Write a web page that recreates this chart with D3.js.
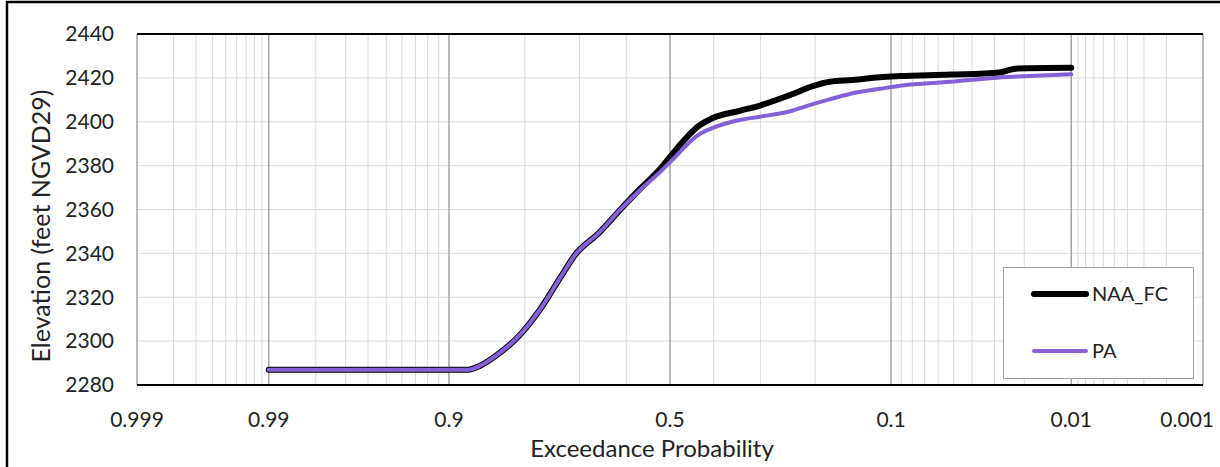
<!DOCTYPE html>
<meta charset="utf-8">
<style>
body { margin: 0; background: #fff; }
svg text { font-family: Lato, "Open Sans", sans-serif; fill: #222; }
.grid-minor line { stroke: #dcdcdc; stroke-width: 1px; }
.grid-major line { stroke: #a3a3a3; stroke-width: 1.5px; }
.grid-y line { stroke: #dcdcdc; stroke-width: 1px; }
</style>
<svg width="1220" height="467"></svg>
<script src="https://d3js.org/d3.v7.min.js"></script>
<script>
// exceedance probabilities shared by both series
var exceedance = [0.99, 0.95, 0.90, 0.879, 0.865, 0.842, 0.808, 0.775, 0.738, 0.709, 0.658, 0.614,
  0.569, 0.523, 0.50, 0.431, 0.402, 0.343, 0.301, 0.243, 0.204, 0.177, 0.145, 0.112, 0.091,
  0.052, 0.028, 0.022, 0.01];
var naaFC = [2287, 2287, 2287, 2287, 2288.7, 2293.7, 2302.8, 2314.2, 2328.8, 2339.3, 2349.7, 2359.8,
  2369.4, 2378.5, 2384, 2398.5, 2401.7, 2405, 2407.4, 2412.2, 2416.2, 2418.2, 2419, 2420.3, 2420.8,
  2421.5, 2422.5, 2424.3, 2424.6];
var pa = [2287, 2287, 2287, 2287, 2288.7, 2293.7, 2302.8, 2314.2, 2328.8, 2339.3, 2349.7, 2359.8,
  2368.9, 2377.1, 2381.5, 2394.5, 2397.2, 2400.8, 2402.3, 2404.8, 2408, 2410.2, 2413, 2415, 2416.4,
  2418.2, 2420.2, 2420.6, 2421.6];
var seriesNames = ["NAA_FC", "PA"];
var majorTicks = [0.999, 0.99, 0.9, 0.5, 0.1, 0.01, 0.001];
var minorTicks = [0.998, 0.997, 0.996, 0.995, 0.994, 0.993, 0.992, 0.991,
  0.98, 0.97, 0.96, 0.95, 0.94, 0.93, 0.92, 0.91, 0.8, 0.7, 0.6, 0.4, 0.3, 0.2,
  0.09, 0.08, 0.07, 0.06, 0.05, 0.04, 0.03, 0.02,
  0.009, 0.008, 0.007, 0.006, 0.005, 0.004, 0.003, 0.002];
var yTicks = [2280, 2300, 2320, 2340, 2360, 2380, 2400, 2420, 2440];

// inverse standard normal cdf (Acklam)
function probit(p) {
  var a = [-3.969683028665376e+01, 2.209460984245205e+02, -2.759285104469687e+02, 1.383577518672690e+02, -3.066479806614716e+01, 2.506628277459239e+00];
  var b = [-5.447609879822406e+01, 1.615858368580409e+02, -1.556989798598866e+02, 6.680131188771972e+01, -1.328068155288572e+01];
  var c = [-7.784894002430293e-03, -3.223964580411365e-01, -2.400758277161838e+00, -2.549732539343734e+00, 4.374664141464968e+00, 2.938163982698783e+00];
  var d = [7.784695709041462e-03, 3.224671290700398e-01, 2.445134137142996e+00, 3.754408661907416e+00];
  var q, r;
  if (p < 0.02425) {
    q = Math.sqrt(-2 * Math.log(p));
    return (((((c[0]*q+c[1])*q+c[2])*q+c[3])*q+c[4])*q+c[5]) / ((((d[0]*q+d[1])*q+d[2])*q+d[3])*q+1);
  } else if (p > 1 - 0.02425) {
    q = Math.sqrt(-2 * Math.log(1 - p));
    return -(((((c[0]*q+c[1])*q+c[2])*q+c[3])*q+c[4])*q+c[5]) / ((((d[0]*q+d[1])*q+d[2])*q+d[3])*q+1);
  }
  q = p - 0.5; r = q * q;
  return (((((a[0]*r+a[1])*r+a[2])*r+a[3])*r+a[4])*r+a[5])*q / (((((b[0]*r+b[1])*r+b[2])*r+b[3])*r+b[4])*r+1);
}

var svg = d3.select("svg");
var plotL = 137, plotR = 1203, plotT = 34, plotB = 385;

var zScale = d3.scaleLinear().domain([probit(0.001), probit(0.999)]).range([plotL, plotR]);
function x(p) { return zScale(probit(1 - p)); }
var y = d3.scaleLinear().domain([2280, 2440]).range([plotB, plotT]);

// outer frame (left and top edges)
svg.append("path").attr("d", "M7,467V2H1220").attr("fill", "none").attr("stroke", "#000").attr("stroke-width", 2.5);

// horizontal gridlines
svg.append("g").attr("class", "grid-y").selectAll("line")
  .data(yTicks.slice(1, -1)).enter().append("line")
    .attr("x1", plotL).attr("x2", plotR)
    .attr("y1", function(d) { return y(d); }).attr("y2", function(d) { return y(d); });

svg.append("g").attr("class", "grid-minor").selectAll("line")
  .data(minorTicks).enter().append("line")
    .attr("x1", function(d) { return x(d); }).attr("x2", function(d) { return x(d); })
    .attr("y1", plotT).attr("y2", plotB);

svg.append("g").attr("class", "grid-major").selectAll("line")
  .data(majorTicks).enter().append("line")
    .attr("x1", function(d) { return x(d); }).attr("x2", function(d) { return x(d); })
    .attr("y1", plotT).attr("y2", plotB);

// top and bottom black lines
svg.append("line").attr("x1", plotL).attr("x2", plotR).attr("y1", y(2440)).attr("y2", y(2440))
  .attr("stroke", "#000").attr("stroke-width", 2);
svg.append("line").attr("x1", plotL).attr("x2", plotR).attr("y1", y(2280)).attr("y2", y(2280))
  .attr("stroke", "#000").attr("stroke-width", 2);

// y tick labels
svg.append("g").selectAll("text")
  .data(yTicks).enter().append("text")
    .attr("x", 114).attr("y", function(d) { return y(d); })
    .attr("dy", "0.35em").attr("text-anchor", "end")
    .style("font-size", "21px")
    .text(function(d) { return d; });

// x tick labels
var xl = svg.append("g").selectAll("text")
  .data(majorTicks).enter().append("text")
    .attr("x", function(d) { return x(d); }).attr("y", 420)
    .attr("dy", "0.35em").attr("text-anchor", "middle")
    .style("font-size", "21px")
    .text(function(d) { return d; });
xl.each(function() {
  var w = this.getComputedTextLength();
  var cx = +d3.select(this).attr("x");
  if (cx + w / 2 > 1214) d3.select(this).attr("x", 1214 - w / 2);
});

// axis titles
svg.append("text").attr("x", 652).attr("y", 449).attr("dy", "0.35em")
  .attr("text-anchor", "middle").style("font-size", "24px").text("Exceedance Probability");
svg.append("text").attr("transform", "translate(41,226) rotate(-90)").attr("dy", "0.35em")
  .attr("text-anchor", "middle").style("font-size", "25px").text("Elevation (feet NGVD29)");

// series
var colors = ["#000000", "#8560d6"];
var widths = [6, 4];
var series = [naaFC, pa];
var line = d3.line()
  .x(function(d, i) { return x(exceedance[i]); })
  .y(function(d) { return y(d); })
  .curve(d3.curveMonotoneX);
series.forEach(function(s, i) {
  svg.append("path").datum(s)
    .attr("fill", "none").attr("stroke", colors[i]).attr("stroke-width", widths[i])
    .attr("stroke-linejoin", "round").attr("stroke-linecap", "round")
    .attr("d", line);
});

// legend
var lg = svg.append("g");
lg.append("rect").attr("x", 1003.5).attr("y", 267.5).attr("width", 190).attr("height", 111)
  .attr("fill", "#fff").attr("stroke", "#a0a0a0").attr("stroke-width", 1);
seriesNames.forEach(function(name, i) {
  var ly = i === 0 ? 294 : 351;
  lg.append("line").attr("x1", 1034).attr("x2", 1086).attr("y1", ly).attr("y2", ly)
    .attr("stroke", colors[i]).attr("stroke-width", widths[i]).attr("stroke-linecap", "round");
  lg.append("text").attr("x", 1092).attr("y", ly).attr("dy", "0.35em")
    .style("font-size", "20px").text(name);
});
</script>
